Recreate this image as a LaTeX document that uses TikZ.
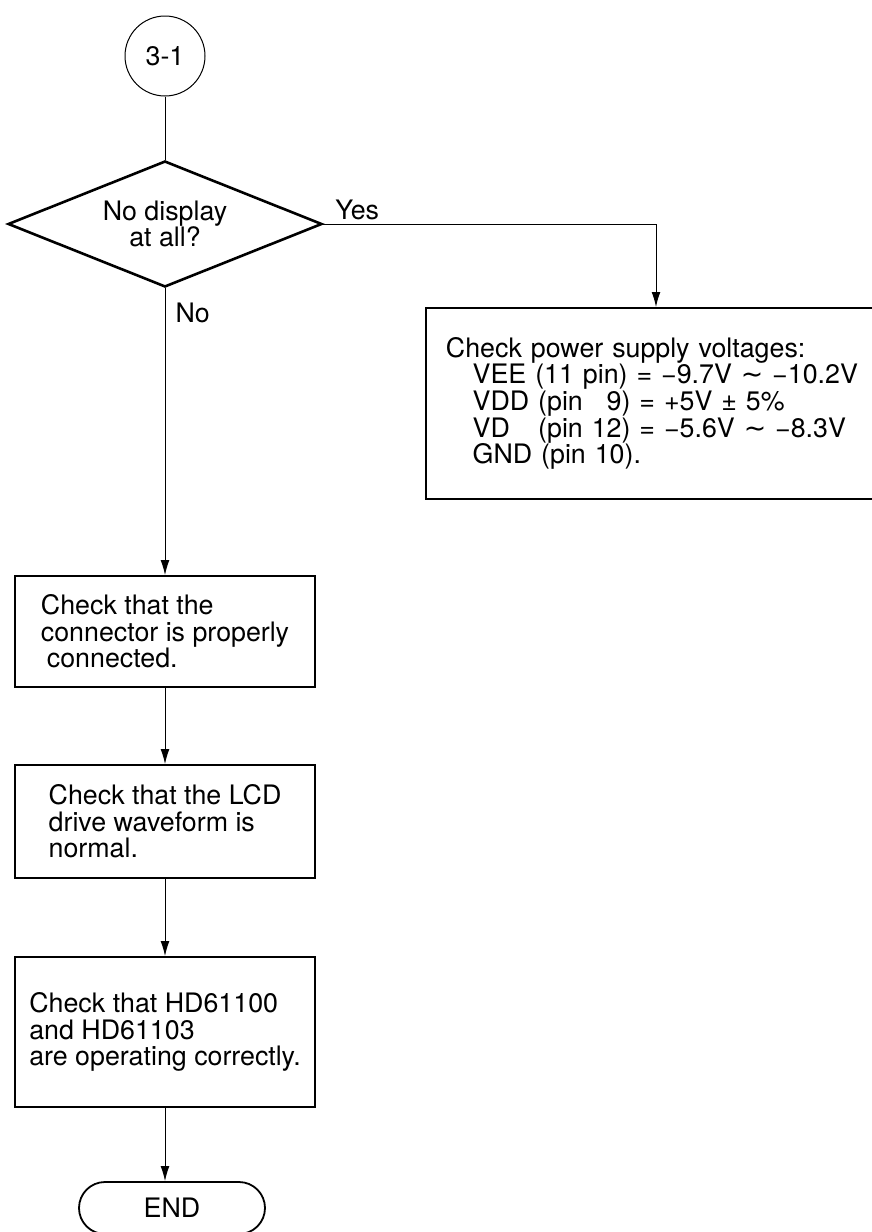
\documentclass[tikz,border=0pt]{standalone}
\usepackage{fontspec}
\setmainfont{TeX Gyre Heros}
\newfontfamily\symfont{DejaVu Sans}
\usetikzlibrary{shapes.geometric,arrows.meta}

\begin{document}
\begin{tikzpicture}[x=0.5pt, y=-0.5pt, >={Latex[length=7.5pt,width=4.4pt]},
    every node/.style={font=\fontsize{13.4pt}{13.3pt}\selectfont},
    stepbox/.style={draw, line width=0.9pt, align=left, minimum width=150pt},
    decision/.style={draw, diamond, aspect=2.5, line width=1.3pt, inner sep=0pt,
        minimum width=157pt, minimum height=63pt, align=center},
    connector/.style={draw, circle, line width=0.5pt, minimum size=40pt, inner sep=0pt},
    terminal/.style={draw, rectangle, rounded corners=13pt, line width=0.9pt,
        minimum width=93pt, minimum height=26pt},
    flow/.style={line width=0.5pt}]
    \useasboundingbox (0,0) rectangle (872,1232);
    \clip (0,0) rectangle (872,1232);

    \node[connector] (start) at (165,56) {3-1};
    \node[decision] (dec) at (165,224) {No display\\at all?};

    % the power box runs off the right edge of the page
    \node[stepbox, anchor=north west, text width=250pt, inner xsep=10pt, minimum height=95.5pt] (pwr) at (425,307)
        {Check power supply voltages:\\
         \hspace*{1em}VEE (11 pin) = −9.7V {\symfont ∼} −10.2V\\
         \hspace*{1em}VDD (pin \phantom{1}9) = +5V ± 5\%\\
         \hspace*{1em}VD\phantom{D} (pin 12) = −5.6V {\symfont ∼} −8.3V\\
         \hspace*{1em}GND (pin 10).};
    \coordinate (pwrin) at ([xshift=115.5pt]pwr.north west);

    \node[stepbox, minimum height=55.5pt] (chk1) at (165,631.5)
        {Check that the\\connector is properly\\\hspace*{3pt}connected.};
    \node[stepbox, minimum height=56.5pt] (chk2) at (165,821.5)
        {Check that the LCD\\drive waveform is\\normal.};
    \node[stepbox, minimum height=75pt] (chk3) at (165,1032)
        {Check that HD61100\\and HD61103\\are operating correctly.};
    \node[terminal] (fin) at (172,1208) {END};

    \draw[flow] (start) -- (dec);
    \draw[flow, ->] (dec) -- node[pos=0.087, right, inner sep=5pt] (lblno) {No} (chk1);
    \draw[flow, ->] (dec.east) -| node[pos=0.051, above, inner sep=2pt] (lblyes) {Yes} (pwrin);
    \draw[flow, ->] (chk1) -- (chk2);
    \draw[flow, ->] (chk2) -- (chk3);
    \draw[flow, ->] (chk3.south) -- (chk3.south |- fin.north);
\end{tikzpicture}
\end{document}
